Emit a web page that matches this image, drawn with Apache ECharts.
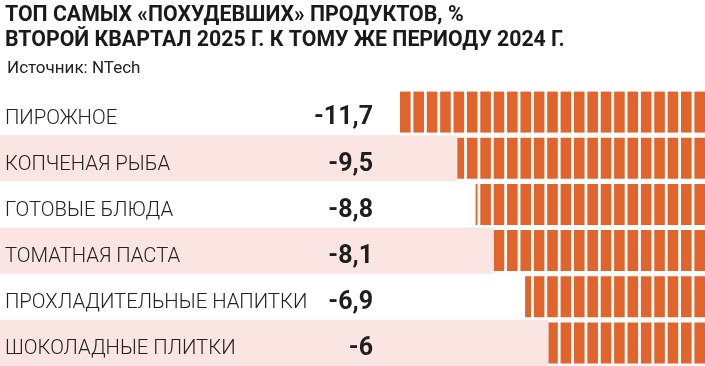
<!DOCTYPE html>
<html><head><meta charset="utf-8">
<script src="https://cdn.jsdelivr.net/npm/echarts@6/dist/echarts.min.js"></script>
<style>html,body{margin:0;padding:0;background:#fff}#c{width:705px;height:366px}</style>
</head><body><div id="c"></div>
<script>
const titleLines = ['ТОП САМЫХ «ПОХУДЕВШИХ» ПРОДУКТОВ, %', 'ВТОРОЙ КВАРТАЛ 2025 Г. К ТОМУ ЖЕ ПЕРИОДУ 2024 Г.'];
const sourceText = 'Источник: NTech';
const categories = ['ПИРОЖНОЕ', 'КОПЧЕНАЯ РЫБА', 'ГОТОВЫЕ БЛЮДА', 'ТОМАТНАЯ ПАСТА', 'ПРОХЛАДИТЕЛЬНЫЕ НАПИТКИ', 'ШОКОЛАДНЫЕ ПЛИТКИ'];
const values = [-11.7, -9.5, -8.8, -8.1, -6.9, -6];

const fmt = v => String(v).replace('.', ',');
const chart = echarts.init(document.getElementById('c'));
const TOP = 89, H = 279;
chart.setOption({
  animation: false,
  title: [
    { text: titleLines.join('\n'), left: 0, top: -2,
      textStyle: { fontFamily: 'Roboto', fontWeight: 'bold', fontSize: 21.3, lineHeight: 25, color: '#1a1a1a' } },
    { text: sourceText, left: 2, top: 55,
      textStyle: { fontFamily: 'Roboto', fontWeight: 'normal', fontSize: 17, color: '#222' } }
  ],
  grid: [
    { left: 0, right: 0, top: TOP, height: H },
    { left: 400, right: 0, top: TOP, height: H }
  ],
  xAxis: [
    { gridIndex: 0, type: 'value', show: false, min: 0, max: 1 },
    { gridIndex: 1, type: 'value', show: false, min: 'dataMin', max: 0 }
  ],
  yAxis: [
    { gridIndex: 0, type: 'category', data: categories, inverse: true,
      axisLine: { show: false }, axisTick: { show: false },
      splitArea: { show: true, areaStyle: { color: ['#ffffff', '#fbe5e2'] } },
      axisLabel: { inside: true, margin: 5, align: 'left', verticalAlign: 'top', lineHeight: 13,
        fontFamily: 'Roboto', fontWeight: 300, fontSize: 20.3, color: '#222' } },
    { gridIndex: 0, type: 'category', data: values.map(fmt), inverse: true, position: 'left', offset: -378,
      axisLine: { show: false }, axisTick: { show: false }, splitArea: { show: false },
      axisLabel: { margin: 5, align: 'right', verticalAlign: 'top', lineHeight: 12,
        fontFamily: 'Roboto', fontWeight: 'bold', fontSize: 25, color: '#1e1e1e' } },
    { gridIndex: 1, type: 'category', data: categories, inverse: true, show: false }
  ],
  series: [
    { type: 'bar', xAxisIndex: 1, yAxisIndex: 2, data: values, barWidth: '100%', z: 1,
      itemStyle: { color: '#ffffff' }, silent: true },
    { type: 'pictorialBar', xAxisIndex: 1, yAxisIndex: 2, data: values, z: 5,
      symbol: 'rect', symbolSize: [10.6, 41], symbolMargin: 1.4,
      symbolRepeat: 'fixed', symbolClip: true,
      itemStyle: { color: '#e0642c' } }
  ]
});
</script></body></html>
